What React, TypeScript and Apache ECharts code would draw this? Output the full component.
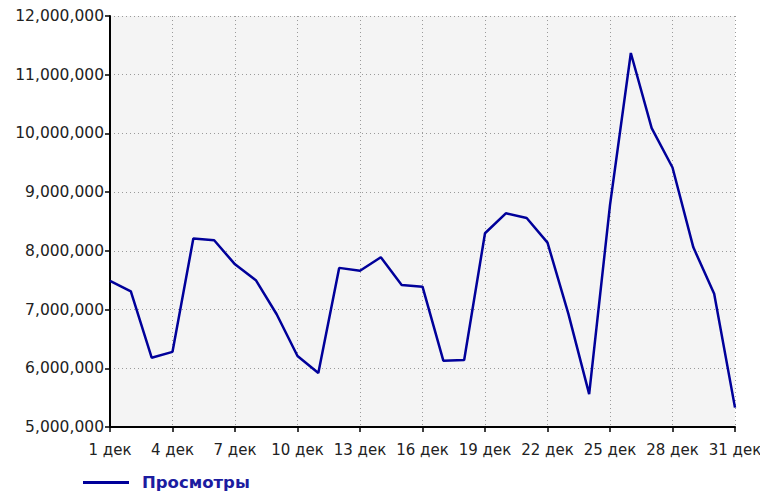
import React, { useEffect, useRef } from "react";
import * as echarts from "echarts";

const days: string[] = Array.from({ length: 31 }, (_, i) => `${i + 1} дек`);
const seriesName = "Просмотры";
const views: number[] = [
  7490000, 7310000, 6180000, 6280000, 8210000, 8180000, 7770000, 7500000,
  6920000, 6210000, 5920000, 7710000, 7660000, 7890000, 7420000, 7390000,
  6130000, 6140000, 8300000, 8640000, 8560000, 8140000, 6930000, 5560000,
  8780000, 11370000, 10090000, 9420000, 8060000, 7270000, 5330000,
];
const yMin = 5000000;
const yMax = 12000000;
const yStep = 1000000;

const fmt = (v: number) => v.toLocaleString("en-US");

export default function App() {
  const ref = useRef<HTMLDivElement>(null);
  useEffect(() => {
    if (!ref.current) return;
    const chart = echarts.init(ref.current, undefined, { renderer: "svg" });
    const font = "DejaVu Sans";
    chart.setOption({
      animation: false,
      backgroundColor: "#ffffff",
      grid: {
        left: 110,
        top: 16,
        right: 25,
        bottom: 67,
        show: true,
        backgroundColor: "#f4f4f4",
        borderWidth: 0,
        containLabel: false,
        outerBoundsMode: "none",
      },
      legend: {
        left: 78,
        top: 469,
        icon: "rect",
        itemWidth: 46,
        itemHeight: 3,
        itemGap: 10,
        data: [seriesName],
        textStyle: {
          fontFamily: font,
          fontWeight: "bold",
          fontSize: 16.5,
          color: "#1c1ca0",
          padding: [0, 0, 0, 8],
        },
      },
      xAxis: {
        type: "category",
        data: days,
        boundaryGap: false,
        axisLine: { lineStyle: { color: "#000", width: 2 } },
        axisTick: { interval: 2, length: 5, lineStyle: { color: "#000", width: 1.5 } },
        axisLabel: {
          interval: 2,
          fontFamily: font,
          fontSize: 15,
          color: "#222",
          margin: 15,
        },
        splitLine: {
          show: true,
          interval: 2,
          lineStyle: { color: "#9a9a9a", type: [1, 3], width: 1 },
        },
      },
      yAxis: {
        type: "value",
        min: yMin,
        max: yMax,
        interval: yStep,
        axisLine: { show: true, lineStyle: { color: "#000", width: 2 } },
        axisTick: { show: true, length: 5, lineStyle: { color: "#000", width: 1.5 } },
        axisLabel: {
          formatter: fmt,
          fontFamily: font,
          fontSize: 15.5,
          color: "#222",
          margin: 6,
        },
        splitLine: {
          show: true,
          lineStyle: { color: "#9a9a9a", type: [1, 3], width: 1 },
        },
      },
      series: [
        {
          name: seriesName,
          type: "line",
          data: views,
          symbol: "none",
          lineStyle: { color: "#00009a", width: 2.5 },
          itemStyle: { color: "#00009a" },
        },
      ],
    });
    return () => chart.dispose();
  }, []);
  return (
    <div
      ref={ref}
      style={{ position: "fixed", left: 0, top: 0, width: 760, height: 494 }}
    />
  );
}
